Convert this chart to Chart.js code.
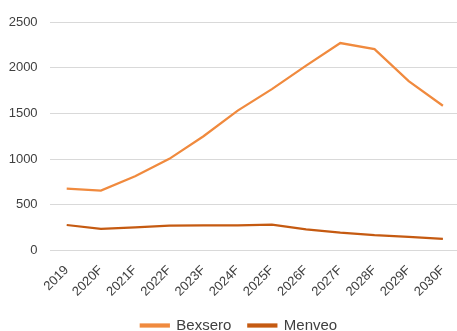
<!DOCTYPE html>
<html><head><meta charset="utf-8">
<script src="https://cdn.jsdelivr.net/npm/chart.js@4/dist/chart.umd.min.js"></script>
<style>html,body{margin:0;padding:0;background:#fff;overflow:hidden}#wrap{width:460px;height:331px}</style>
</head><body><div id="wrap"><canvas id="c" width="460" height="331"></canvas></div>
<script>
const categories = ["2019","2020F","2021F","2022F","2023F","2024F","2025F","2026F","2027F","2028F","2029F","2030F"];
const bexsero = [677, 655, 812, 1003, 1250, 1530, 1765, 2022, 2270, 2203, 1853, 1584];
const menveo = [279, 236, 254, 272, 274, 275, 282, 232, 195, 168, 150, 128];
const yTicks = [0, 500, 1000, 1500, 2000, 2500];

const legendShift = {
  id: 'legendShift',
  afterLayout(chart) {
    const lg = chart.legend;
    if (lg) { lg.left += 9; lg.right += 9; }
  }
};

new Chart(document.getElementById('c'), {
  type: 'line',
  data: {
    labels: categories,
    datasets: [
      {label: 'Bexsero', data: bexsero, borderColor: '#F08A3E', backgroundColor: '#F08A3E', borderWidth: 2.25, pointRadius: 0, tension: 0},
      {label: 'Menveo', data: menveo, borderColor: '#C55A11', backgroundColor: '#C55A11', borderWidth: 2.25, pointRadius: 0, tension: 0}
    ]
  },
  plugins: [legendShift],
  options: {
    responsive: false,
    animation: false,
    devicePixelRatio: 1,
    layout: {padding: {top: 22, left: 0, right: 0, bottom: -12}},
    plugins: {
      tooltip: {enabled: false},
      legend: {
        position: 'bottom',
        labels: {boxWidth: 28, boxHeight: 2, padding: 17, color: '#404040', font: {family: 'Liberation Sans, Arial', size: 15}}
      }
    },
    scales: {
      x: {
        offset: true,
        grid: {display: false},
        border: {display: false},
        ticks: {maxRotation: 45, minRotation: 45, color: '#404040', padding: 4, font: {family: 'Liberation Sans, Arial', size: 13}},
        afterFit: s => { s.height = 50.5; }
      },
      y: {
        min: 0, max: 2500,
        afterBuildTicks: s => { s.ticks = yTicks.map(v => ({value: v})); },
        grid: {color: '#D9D9D9', lineWidth: 1, drawTicks: false},
        border: {display: false},
        ticks: {color: '#404040', padding: 12, callback: v => String(v), font: {family: 'Liberation Sans, Arial', size: 13}},
        afterFit: s => { s.width = 49.6; }
      }
    }
  }
});
</script></body></html>
